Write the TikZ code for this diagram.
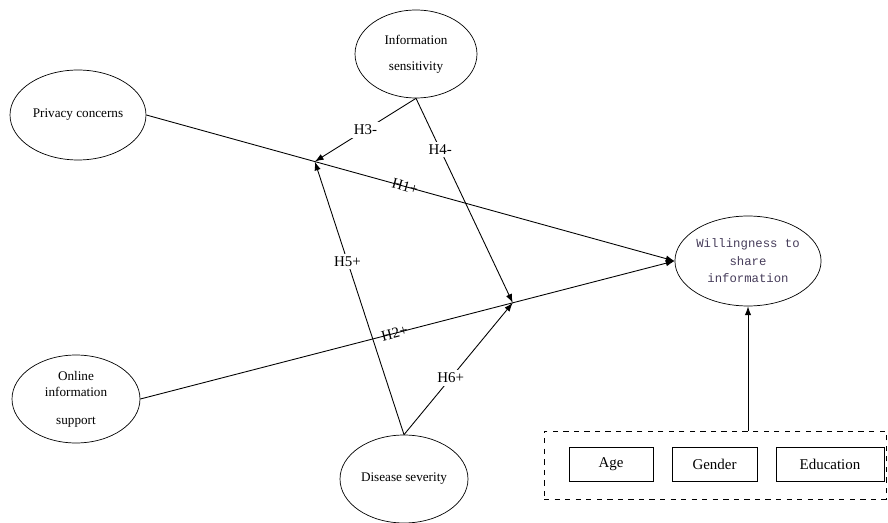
\documentclass[tikz,border=0pt]{standalone}
\usepackage{fontspec}
\setmainfont{Liberation Serif}
\setmonofont{Liberation Mono}
\usetikzlibrary{shapes.geometric,arrows.meta,calc}
\tikzset{
  construct/.style={draw, ellipse, inner sep=0pt, align=center, font=\fontsize{7.5}{9}\selectfont},
  ctrlbox/.style={draw, rectangle, inner sep=0pt, minimum height=0.68cm, font=\fontsize{8.5}{10}\selectfont},
  link/.style={-{Latex[length=5pt,width=3.6pt]}, line width=0.5pt},
  hyp/.style={fill=white, inner sep=1.5pt, font=\fontsize{8.5}{10}\selectfont},
  hypon/.style={sloped, inner sep=0pt, font=\fontsize{8.5}{10}\selectfont}
}
\begin{document}
\begin{tikzpicture}[x=0.02cm, y=-0.02cm]
    \useasboundingbox (0,0) rectangle (888,523);
    % Draw constructs
    \node [construct, minimum width=2.72cm, minimum height=1.8cm] (privacy) at (78,115) {Privacy concerns};
    \node [construct, minimum width=2.44cm, minimum height=1.76cm] (sens) at (416,54) {Information\\[6pt]sensitivity};
    \node [construct, minimum width=2.56cm, minimum height=1.76cm] (online) at (76,399) {Online\\information\\[7pt]support};
    \node [construct, minimum width=2.56cm, minimum height=1.76cm] (disease) at (404,479) {Disease severity};
    \node [construct, minimum width=2.64cm, minimum height=1.8cm, text={rgb,255:red,70;green,60;blue,90},
           font=\ttfamily\fontsize{7}{10}\selectfont] (will) at (748,261) {Willingness to\\share\\information};

    % Control variables
    \node [draw, dashed, line width=0.4pt, minimum width=6.84cm, minimum height=1.36cm] (ctrl) at (715,465) {};
    \node [ctrlbox, minimum width=1.68cm] (age) at (611,464) {Age};
    \node [ctrlbox, minimum width=1.7cm] (gender) at (714.5,464) {Gender};
    \node [ctrlbox, minimum width=2.16cm] (edu) at (830,464) {Education};

    % Moderation points
    \coordinate (ja) at ($(privacy.east)!0.319!(will.west)$);
    \coordinate (jb) at ($(online.east)!0.697!(will.west)$);

    \draw [link] (privacy.east) -- node [hypon, pos=0.49] {H1+} (will.west);
    \draw [link] (online.east) -- node [hypon, pos=0.476] {H2+} (will.west);
    \draw [link] (sens.south) -- node [hyp] {H3-} (ja);
    \draw [link] (sens.south) -- node [hyp, pos=0.25] {H4-} (jb);
    \draw [link] (disease.north) -- node [hyp, pos=0.635] {H5+} (ja);
    \draw [link] (disease.north) -- node [hyp, pos=0.43] {H6+} (jb);
    \draw [link] (ctrl.north -| will.south) -- (will.south);
\end{tikzpicture}
\end{document}
